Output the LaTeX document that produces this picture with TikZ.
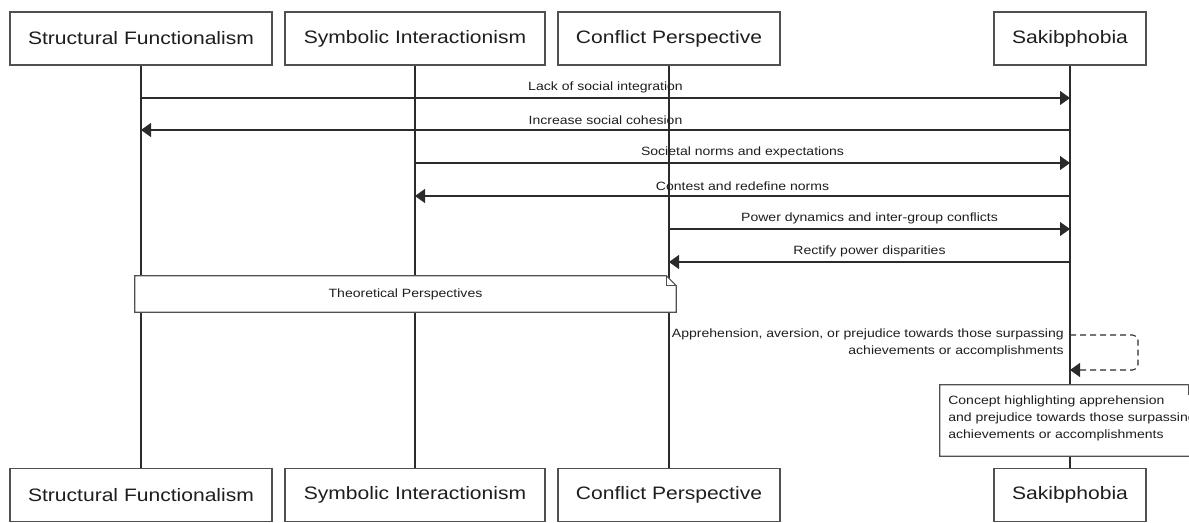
\documentclass[tikz,border=0pt]{standalone}
\usepackage{fontspec}
\setmainfont[FakeStretch=1.17]{Liberation Sans}
\usetikzlibrary{arrows.meta}
\definecolor{linec}{HTML}{2B2B2B}
\definecolor{boxc}{HTML}{505050}
\definecolor{txtc}{HTML}{1E1E1E}
\tikzset{
  part/.style={draw=boxc, line width=1pt, fill=white, text=txtc, inner sep=0pt,
    font=\fontsize{13.5pt}{16pt}\selectfont, minimum height=39.75pt},
  life/.style={draw=linec, line width=0.8pt},
  msg/.style={draw=linec, line width=0.8pt, -{Triangle[length=7.5pt,width=10.5pt]}},
  lbl/.style={font=\fontsize{9pt}{12.75pt}\selectfont, text=txtc, inner sep=0pt},
  noteframe/.style={draw=boxc, line width=0.8pt, fill=white},
  dashmsg/.style={msg, dash pattern=on 4.5pt off 3pt, rounded corners=4pt},
}
\begin{document}
\begin{tikzpicture}[x=0.75pt,y=-0.75pt]
\useasboundingbox (0,0) rectangle (1189,522);
\clip (0,0) rectangle (1189,522);
% top participants
\node[part, minimum width=196.5pt] (sfT) at (141,38.5) {Structural Functionalism};
\node[part, minimum width=195pt] (siT) at (415,38.5) {Symbolic Interactionism};
\node[part, minimum width=166.5pt] (cpT) at (669,38.5) {Conflict Perspective};
\node[part, minimum width=114pt] (skT) at (1070,38.5) {Sakibphobia};
% bottom participants
\node[part, minimum width=196.5pt] (sfB) at (141,495) {Structural Functionalism};
\node[part, minimum width=195pt] (siB) at (415,495) {Symbolic Interactionism};
\node[part, minimum width=166.5pt] (cpB) at (669,495) {Conflict Perspective};
\node[part, minimum width=114pt] (skB) at (1070,495) {Sakibphobia};
% lifelines
\draw[life] (sfT.south) -- (sfB.north);
\draw[life] (siT.south) -- (siB.north);
\draw[life] (cpT.south) -- (cpB.north);
\draw[life] (skT.south) -- (skB.north);
% message rows
\coordinate (r1) at (0,98);
\coordinate (r2) at (0,130);
\coordinate (r3) at (0,163);
\coordinate (r4) at (0,196);
\coordinate (r5) at (0,229);
\coordinate (r6) at (0,262);
\draw[msg] (sfT |- r1) -- (skT |- r1) node[lbl, midway, above=3.5pt] {Lack of social integration};
\draw[msg] (skT |- r2) -- (sfT |- r2) node[lbl, midway, above=3.5pt] {Increase social cohesion};
\draw[msg] (siT |- r3) -- (skT |- r3) node[lbl, midway, above=3.5pt] {Societal norms and expectations};
\draw[msg] (skT |- r4) -- (siT |- r4) node[lbl, midway, above=3.5pt] {Contest and redefine norms};
\draw[msg] (cpT |- r5) -- (skT |- r5) node[lbl, midway, above=3.5pt] {Power dynamics and inter-group conflicts};
\draw[msg] (skT |- r6) -- (cpT |- r6) node[lbl, midway, above=3.5pt] {Rectify power disparities};
% note: Theoretical Perspectives
\node[minimum width=405.75pt, minimum height=27pt, inner sep=0pt] (tp) at (405.5,294) {};
\draw[noteframe] (tp.north west) -- ([xshift=-7.5pt]tp.north east) -- ([yshift=-7.5pt]tp.north east)
  -- (tp.south east) -- (tp.south west) -- cycle;
\draw[draw=boxc, line width=0.6pt] ([xshift=-7.5pt]tp.north east) -- ([xshift=-7.5pt,yshift=-7.5pt]tp.north east) -- ([yshift=-7.5pt]tp.north east);
\node[lbl] (tpt) at (tp.center) {Theoretical Perspectives};
% self message
\coordinate (s1) at (0,335);
\coordinate (s2) at (0,370);
\coordinate (sr) at (1138,0);
\draw[dashmsg] (skT |- s1) -- (sr |- s1) -- (sr |- s2) -- (skT |- s2);
\node[lbl, anchor=north east, align=right] (selflbl) at (1064,329)
  {Apprehension, aversion, or prejudice towards those surpassing\\achievements or accomplishments};
% note: concept
\node[minimum width=193.5pt, minimum height=53.25pt, inner sep=0pt] (cn) at (1069,420.5) {};
\draw[noteframe] (cn.north west) -- ([xshift=-7.5pt]cn.north east) -- ([yshift=-7.5pt]cn.north east)
  -- (cn.south east) -- (cn.south west) -- cycle;
\draw[draw=boxc, line width=0.6pt] ([xshift=-7.5pt]cn.north east) -- ([xshift=-7.5pt,yshift=-7.5pt]cn.north east) -- ([yshift=-7.5pt]cn.north east);
\node[lbl, anchor=north west, align=left] (cnt) at (948,396)
  {Concept highlighting apprehension\\and prejudice towards those surpassing\\achievements or accomplishments};
\end{tikzpicture}
\end{document}
